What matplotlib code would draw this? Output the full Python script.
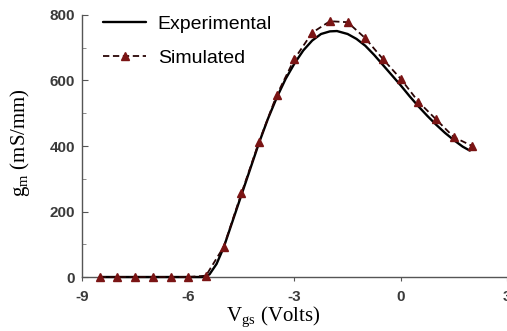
import matplotlib
matplotlib.use("Agg")
import matplotlib.pyplot as plt
from matplotlib.ticker import MultipleLocator

plt.rcParams["axes.unicode_minus"] = False

# Experimental curve (solid black)
exp_v = [-8.5, -8.0, -7.0, -6.0, -5.6, -5.4, -5.2, -5.0, -4.75, -4.5, -4.25, -4.0,
         -3.75, -3.5, -3.25, -3.0, -2.75, -2.5, -2.25, -2.0, -1.8, -1.5, -1.25,
         -1.0, -0.75, -0.5, -0.25, 0.0, 0.25, 0.5, 0.75, 1.0, 1.25, 1.5, 1.75, 1.95]
exp_gm = [0, 0, 0, 0, 0, 8, 40, 90, 170, 250, 330, 410,
          483, 548, 605, 652, 692, 722, 742, 750, 751, 742, 727,
          706, 678, 647, 616, 585, 552, 521, 492, 465, 440, 418, 398, 386]

# Simulated curve (dashed, triangles)
sim_v = [-8.5, -8.0, -7.5, -7.0, -6.5, -6.0, -5.5, -5.0, -4.5, -4.0, -3.5, -3.0,
         -2.5, -2.0, -1.5, -1.0, -0.5, 0.0, 0.5, 1.0, 1.5, 2.0]
sim_gm = [0, 0, 0, 0, 0, 0, 4, 92, 255, 413, 556, 666,
          746, 781, 778, 729, 665, 605, 535, 481, 427, 401]

x_ticks = [-9, -6, -3, 0, 3]
y_ticks = [0, 200, 400, 600, 800]

fig = plt.figure(figsize=(5.07, 3.31), dpi=100)
ax = fig.add_axes([0.1617, 0.1631, 0.8383, 0.7916])

ax.plot(exp_v, exp_gm, color="black", lw=1.7, label="Experimental",
        solid_capstyle="round", clip_on=False, zorder=3)
ax.plot(sim_v, sim_gm, color="#2a0505", lw=1.3, ls=(0, (3.5, 2)),
        marker="^", markersize=6, markerfacecolor="#7a1414",
        markeredgecolor="#7a1414", label="Simulated", clip_on=False, zorder=4)

ax.set_xlim(-9, 3)
ax.set_ylim(0, 800)
ax.set_xticks(x_ticks)
ax.set_yticks(y_ticks)
ax.yaxis.set_minor_locator(MultipleLocator(100))

for s in ["top", "right"]:
    ax.spines[s].set_visible(False)
for s in ["left", "bottom"]:
    ax.spines[s].set_color("#555555")
    ax.spines[s].set_linewidth(1.0)

ax.tick_params(axis="y", which="major", direction="in", length=4, color="#555555",
               labelsize=11, labelcolor="#3a3a3a", pad=5)
ax.tick_params(axis="y", which="minor", direction="in", length=3, color="#777777")
ax.tick_params(axis="x", which="major", direction="out", length=3, color="#555555",
               labelsize=11, labelcolor="#3a3a3a", pad=6)
for lab in ax.get_xticklabels() + ax.get_yticklabels():
    lab.set_fontweight("bold")
    lab.set_family("Liberation Sans")

ax.set_xlabel(r"V$_{\mathregular{gs}}$ (Volts)", family="Liberation Serif",
              fontsize=15)
ax.set_ylabel(r"g$_{\mathregular{m}}$ (mS/mm)", family="Liberation Serif",
              fontsize=15)
ax.xaxis.set_label_coords(0.449, -0.108)
ax.yaxis.set_label_coords(-0.118, 0.513)

leg = ax.legend(loc="upper left", bbox_to_anchor=(0.05, 1.0), frameon=False,
                prop={"family": "Liberation Sans", "size": 14},
                handlelength=2.2, handletextpad=0.6, labelspacing=0.85,
                borderpad=0, borderaxespad=0)

fig.savefig("out.png", dpi=100)
